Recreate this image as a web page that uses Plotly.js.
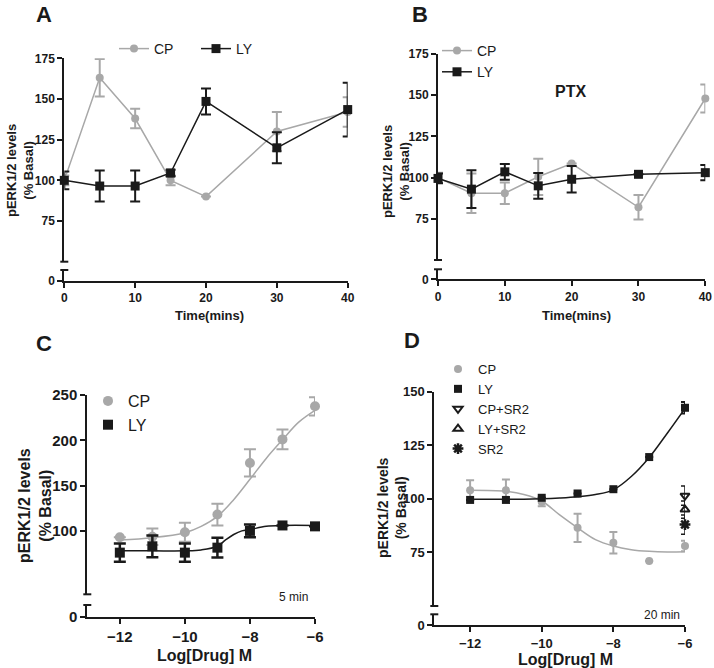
<!DOCTYPE html>
<html>
<head>
<meta charset="utf-8">
<script src="https://cdn.plot.ly/plotly-3.0.1.min.js"></script>
<style>
  html, body { margin: 0; padding: 0; background: #fff; }
  #myPlot { width: 714px; height: 668px; }
</style>
</head>
<body>
<div id="myPlot"></div>
<script>
// panel A: time course
const timeA = [0, 5, 10, 15, 20, 30, 40];
const cpA = [100, 163, 138, 100, 90, 130, 142];
const cpAErr = [3, 11.5, 6, 3, null, 12, 9];
const lyA = [100, 96.5, 96.5, 104.5, 148.5, 120, 143.5];
const lyAErr = [5.5, 9.5, 9.5, 2, 8, 9.5, 16.5];

// panel B: PTX pretreated
const timeB = [0, 5, 10, 15, 20, 30, 40];
const cpB = [100, 90.5, 90.5, 100.5, 108.5, 82, 148];
const cpBErr = [3, 12, 6.5, 11, null, 7.5, 8.5];
const lyB = [99.5, 93, 103.5, 95, 99, 102, 103];
const lyBErr = [3, 11.5, 4.8, 7.8, 8, null, 4.6];

// panel C: 5 min concentration response
const doseC = [-12, -11, -10, -9, -8, -7, -6];
const cpC = [93, 93.5, 98.5, 118, 175, 201, 237.5];
const cpCErr = [null, 9, 10.5, 12, 15, 11, 10];
const lyC = [76, 83, 76, 81.5, 100, 106, 105];
const lyCErr = [10, 12, 10, 11, 7, null, null];
// fitted curves
const fitXC = [-12, -11, -10, -9.5, -9, -8.5, -8, -7.5, -7, -6.5, -6];
const cpFitC = [90, 92.5, 98, 105, 116, 134.5, 157, 180, 200.5, 220, 233];
const fitXLyC = [-12, -11, -10, -9.5, -9, -8.75, -8.5, -8.25, -8, -7.5, -7, -6];
const lyFitC = [78, 78, 78, 79, 83, 90, 96, 100, 101.5, 105, 106, 106];

// panel D: 20 min concentration response
const doseD = [-12, -11, -10, -9, -8, -7, -6];
const cpD = [104, 104, 98.5, 86.5, 79.5, 71, 78];
const cpDErr = [4.7, 5, 2, 6.6, 5, null, 2.5];
const lyD = [99.5, 99.5, 100.5, 102.5, 104.5, 119.5, 142.5];
const lyDErr = [null, null, null, null, null, null, 2.7];
const fitXD = [-12, -11, -10.5, -10, -9.5, -9, -8.5, -8, -7.5, -7, -6.5, -6];
const cpFitD = [104, 103.5, 102, 99, 92.5, 86.5, 81, 78, 76.3, 75.5, 75.2, 75.3];
const lyFitD = [99.8, 99.8, 99.8, 100, 100.4, 101, 102, 104.2, 110.4, 119.3, 130.5, 142.2];
const sr2Dose = [-6];
const cpSr2 = [101.5];
const cpSr2Err = [4.5];
const lySr2 = [95];
const lySr2Err = [4];
const sr2 = [88];
const sr2Err = [4.5];

const GREY = "#a8a8a8";
const BLACK = "#1a1a1a";
const FONT = "Liberation Sans, Arial, sans-serif";
const W = 714, H = 668;

// pixel helpers -> paper fractions
const px = (p) => p / W;
const py = (p) => 1 - p / H;

// panel geometry in pixels: left/right of x axis, top of y axis, break, low segment, base line
const geo = {
  A: { x0: 64.3, x1: 347.7, top: 58.3, brk: 261.7, low: 270, base: 280.7 },
  B: { x0: 438, x1: 705.3, top: 54, brk: 260, low: 269.3, base: 279.3 },
  C: { x0: 87.3, x1: 315, top: 395, brk: 594.3, low: 605, base: 616.7 },
  D: { x0: 434.3, x1: 685, top: 391.7, brk: 606, low: 614.3, base: 625 },
};

function errY(arr, color, thick, w) {
  return { type: "data", array: arr, visible: true, color: color, thickness: thick, width: w };
}

// empty traces so the short lower axis segments get their own subplot
function stub(xa, ya) {
  return { x: [], y: [], xaxis: xa, yaxis: ya, type: "scatter", mode: "markers", showlegend: false, hoverinfo: "skip" };
}

const data = [
  stub("x", "y2"), stub("x2", "y4"), stub("x3", "y6"), stub("x4", "y8"),
  // A
  { x: timeA, y: cpA, name: "CP", xaxis: "x", yaxis: "y", legend: "legend",
    mode: "lines+markers", line: { color: GREY, width: 1.5 },
    marker: { color: GREY, size: 8, symbol: "circle" },
    error_y: errY(cpAErr, GREY, 2, 5), cliponaxis: false },
  { x: timeA, y: lyA, name: "LY", xaxis: "x", yaxis: "y", legend: "legend",
    mode: "lines+markers", line: { color: BLACK, width: 1.5 },
    marker: { color: BLACK, size: 9, symbol: "square" },
    error_y: errY(lyAErr, BLACK, 2, 5), cliponaxis: false },
  // B
  { x: timeB, y: cpB, name: "CP", xaxis: "x2", yaxis: "y3", legend: "legend2",
    mode: "lines+markers", line: { color: GREY, width: 1.5 },
    marker: { color: GREY, size: 8, symbol: "circle" },
    error_y: errY(cpBErr, GREY, 2, 5), cliponaxis: false },
  { x: timeB, y: lyB, name: "LY", xaxis: "x2", yaxis: "y3", legend: "legend2",
    mode: "lines+markers", line: { color: BLACK, width: 1.5 },
    marker: { color: BLACK, size: 9, symbol: "square" },
    error_y: errY(lyBErr, BLACK, 2, 5), cliponaxis: false },
  // C
  { x: fitXC, y: cpFitC, xaxis: "x3", yaxis: "y5", mode: "lines", showlegend: false,
    line: { color: GREY, width: 1.5, shape: "spline" } },
  { x: fitXLyC, y: lyFitC, xaxis: "x3", yaxis: "y5", mode: "lines", showlegend: false,
    line: { color: BLACK, width: 1.5, shape: "spline" } },
  { x: doseC, y: cpC, name: "CP", xaxis: "x3", yaxis: "y5", legend: "legend3",
    mode: "markers", marker: { color: GREY, size: 10, symbol: "circle" },
    error_y: errY(cpCErr, GREY, 2, 6), cliponaxis: false },
  { x: doseC, y: lyC, name: "LY", xaxis: "x3", yaxis: "y5", legend: "legend3",
    mode: "markers", marker: { color: BLACK, size: 10, symbol: "square" },
    error_y: errY(lyCErr, BLACK, 2.5, 6), cliponaxis: false },
  // D
  { x: fitXD, y: cpFitD, xaxis: "x4", yaxis: "y7", mode: "lines", showlegend: false,
    line: { color: GREY, width: 1.5, shape: "spline" } },
  { x: fitXD, y: lyFitD, xaxis: "x4", yaxis: "y7", mode: "lines", showlegend: false,
    line: { color: BLACK, width: 1.5, shape: "spline" } },
  { x: doseD, y: cpD, name: "CP", xaxis: "x4", yaxis: "y7", legend: "legend4",
    mode: "markers", marker: { color: GREY, size: 8, symbol: "circle" },
    error_y: errY(cpDErr, GREY, 2, 4), cliponaxis: false },
  { x: doseD, y: lyD, name: "LY", xaxis: "x4", yaxis: "y7", legend: "legend4",
    mode: "markers", marker: { color: BLACK, size: 8, symbol: "square" },
    error_y: errY(lyDErr, BLACK, 2, 4), cliponaxis: false },
  { x: sr2Dose, y: cpSr2, name: "CP+SR2", xaxis: "x4", yaxis: "y7", legend: "legend4",
    mode: "markers", marker: { color: BLACK, size: 8, symbol: "triangle-down-open", line: { width: 2, color: BLACK } },
    error_y: errY(cpSr2Err, BLACK, 1.5, 4), cliponaxis: false },
  { x: sr2Dose, y: lySr2, name: "LY+SR2", xaxis: "x4", yaxis: "y7", legend: "legend4",
    mode: "markers", marker: { color: BLACK, size: 8, symbol: "triangle-up-open", line: { width: 2, color: BLACK } },
    error_y: errY(lySr2Err, BLACK, 1.5, 4), cliponaxis: false },
  { x: sr2Dose, y: sr2, name: "SR2", xaxis: "x4", yaxis: "y7", legend: "legend4",
    mode: "markers", marker: { color: BLACK, size: 9, symbol: "asterisk", line: { width: 2.5, color: BLACK } },
    error_y: errY(sr2Err, BLACK, 1.5, 4), cliponaxis: false },
];

function xAxis(g, anchor, range, vals, size) {
  return {
    domain: [px(g.x0), px(g.x1)], anchor: anchor, range: range,
    tickvals: vals, ticks: "outside", ticklen: 5, tickwidth: 2, tickcolor: BLACK,
    showline: true, linewidth: 2, linecolor: BLACK, showgrid: false, zeroline: false,
    tickfont: { family: FONT, size: size, weight: "bold", color: BLACK },
    fixedrange: true,
  };
}
function yMain(g, anchor, range, vals, size) {
  return {
    domain: [py(g.brk), py(g.top)], anchor: anchor, range: range,
    tickvals: vals, ticks: "outside", ticklen: 5, tickwidth: 2, tickcolor: BLACK,
    showline: true, linewidth: 2, linecolor: BLACK, showgrid: false, zeroline: false,
    tickfont: { family: FONT, size: size, weight: "bold", color: BLACK },
    fixedrange: true,
  };
}
function yLow(g, anchor, size) {
  return {
    domain: [py(g.base), py(g.low)], anchor: anchor, range: [0, 1],
    tickvals: [0], ticktext: ["0"], ticks: "outside", ticklen: 5, tickwidth: 2, tickcolor: BLACK,
    showline: true, linewidth: 2, linecolor: BLACK, showgrid: false, zeroline: false,
    tickfont: { family: FONT, size: size, weight: "bold", color: BLACK },
    fixedrange: true,
  };
}

// small caps marking the axis break
const shapes = [];
Object.values(geo).forEach((g) => {
  [g.brk, g.low].forEach((yy) => {
    shapes.push({ type: "line", xref: "paper", yref: "paper",
      x0: px(g.x0 - 4), x1: px(g.x0 + 4), y0: py(yy), y1: py(yy),
      line: { color: BLACK, width: 2 } });
  });
});

function note(text, xp, yp, size, bold, angle) {
  return { text: text, xref: "paper", yref: "paper", x: px(xp), y: py(yp),
    xanchor: "center", yanchor: "middle", showarrow: false, textangle: angle || 0,
    font: { family: FONT, size: size, color: BLACK, weight: bold ? "bold" : "normal" } };
}

function legendAt(xp, yp, size, orient) {
  return { x: px(xp), y: py(yp), xanchor: "left", yanchor: "top", orientation: orient,
    bgcolor: "rgba(0,0,0,0)", borderwidth: 0, traceorder: "normal",
    font: { family: FONT, size: size, color: BLACK } };
}

const yTitle = "pERK1/2 levels<br>(% Basal)";

const layout = {
  width: W, height: H,
  margin: { l: 0, r: 0, t: 0, b: 0 },
  paper_bgcolor: "#fff", plot_bgcolor: "#fff",
  showlegend: true,
  xaxis: xAxis(geo.A, "y2", [0, 40], [0, 10, 20, 30, 40], 12),
  yaxis: yMain(geo.A, "x", [50, 175], [75, 100, 125, 150, 175], 12),
  yaxis2: yLow(geo.A, "x", 12),
  xaxis2: xAxis(geo.B, "y4", [0, 40], [0, 10, 20, 30, 40], 12),
  yaxis3: yMain(geo.B, "x2", [50, 175], [75, 100, 125, 150, 175], 12),
  yaxis4: yLow(geo.B, "x2", 12),
  xaxis3: xAxis(geo.C, "y6", [-13, -6], [-12, -10, -8, -6], 15),
  yaxis5: yMain(geo.C, "x3", [30, 250], [100, 150, 200, 250], 15),
  yaxis6: yLow(geo.C, "x3", 15),
  xaxis4: xAxis(geo.D, "y8", [-13, -6], [-12, -10, -8, -6], 13),
  yaxis7: yMain(geo.D, "x4", [50, 150], [75, 100, 125, 150], 13),
  yaxis8: yLow(geo.D, "x4", 13),
  legend: Object.assign(legendAt(114, 33, 14, "h"), { entrywidth: 37, entrywidthmode: "pixels" }),
  legend2: legendAt(437, 35, 14, "v"),
  legend3: legendAt(88, 384, 16, "v"),
  legend4: legendAt(438, 354, 13, "v"),
  shapes: shapes,
  annotations: [
    note("A", 44, 15, 22, true),
    note("B", 420, 15, 22, true),
    note("C", 44, 343, 22, true),
    note("D", 412, 340, 22, true),
    note(yTitle, 20, 171, 13, true, -90),
    note(yTitle, 396, 172, 13, true, -90),
    note(yTitle, 35, 506, 16, true, -90),
    note(yTitle, 392, 508, 14, true, -90),
    note("Time(mins)", 209, 315, 13, true),
    note("Time(mins)", 576, 315, 13, true),
    note("Log[Drug] M", 205, 655, 16, true),
    note("Log[Drug] M", 565, 659, 16, true),
    note("PTX", 570, 92, 16, true),
    note("5 min", 293, 597, 12, false),
    note("20 min", 662, 615, 12, false),
  ],
};

Plotly.newPlot("myPlot", data, layout, { displayModeBar: false, staticPlot: true });
</script>
</body>
</html>
